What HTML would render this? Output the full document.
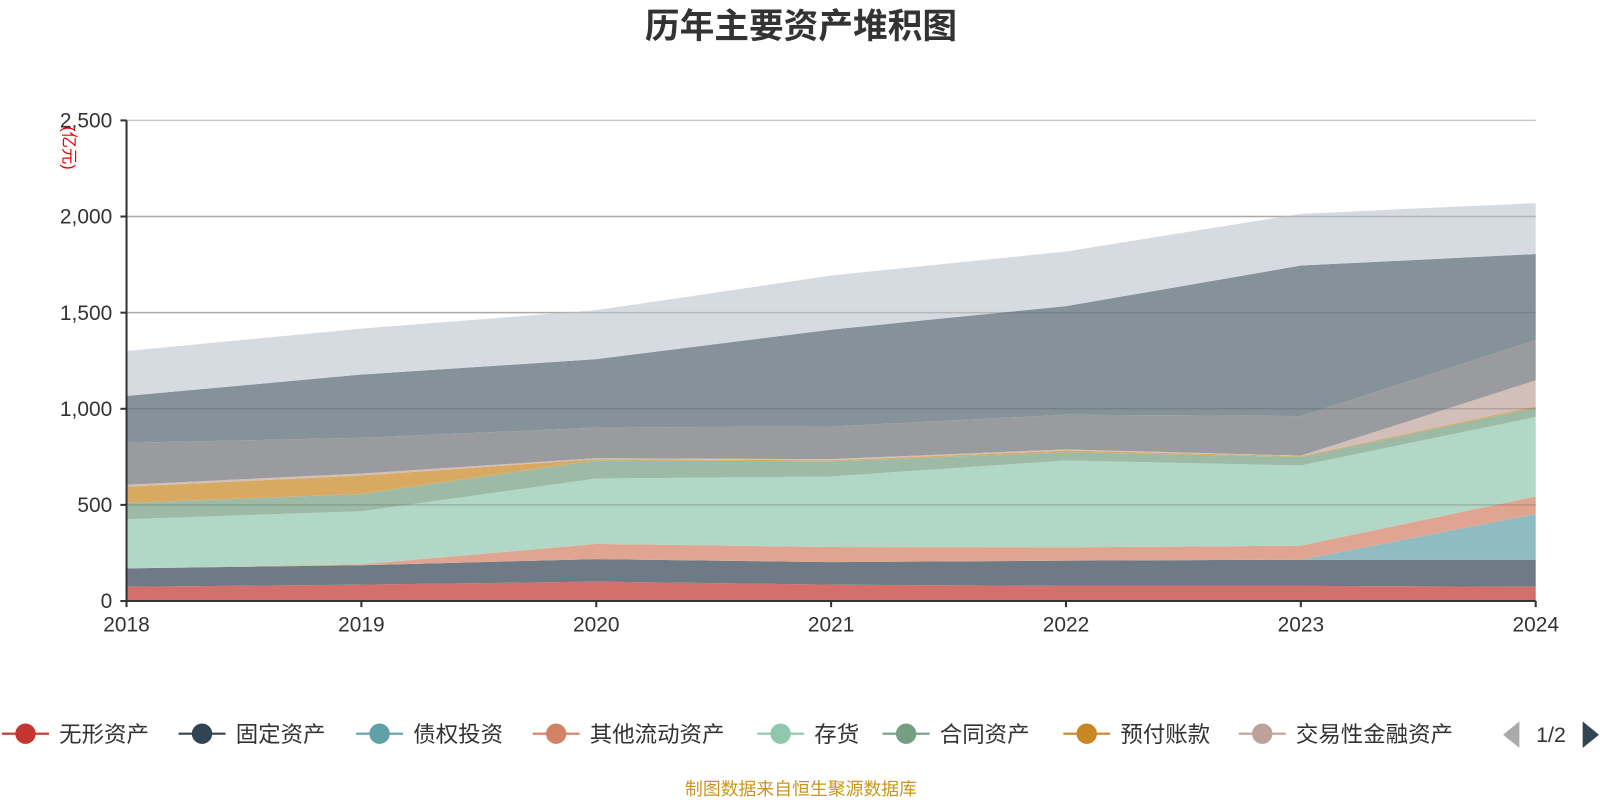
<!DOCTYPE html>
<html><head><meta charset="utf-8"><style>
html,body{margin:0;padding:0;background:#fff;}
svg{display:block;font-family:"Liberation Sans","Noto Sans CJK SC",sans-serif;}
</style></head><body>
<svg id="chart" width="1600" height="800">
<g transform="scale(1.020408)">
<text x="785" y="37" text-anchor="middle" font-size="34" font-weight="bold" fill="#333">历年主要资产堆积图</text>
<text transform="translate(62,145) rotate(90)" text-anchor="middle" font-size="16" fill="#e00">(亿元)</text>
<g id="grid"></g><g id="areas"></g><g id="axes"></g><g id="legend"></g>
<text x="785" y="779" text-anchor="middle" font-size="17.5" fill="#c8961e">制图数据来自恒生聚源数据库</text>
</g>
</svg>
<script>
const years = ['2018','2019','2020','2021','2022','2023','2024'];
const yTicks = [0,500,1000,1500,2000,2500];
const yTickLabels = ['0','500','1,000','1,500','2,000','2,500'];
const sIntangible = [74,85,101,85,79,79,74];
const sFixed = [96,101,117,117,131,136,141];
const sDebtInv = [0,0,0,0,0,0,238];
const sOtherCurrent = [0,5,79,79,69,73,91];
const sInventory = [255,276,340,367,452,417,413];
const sContract = [85,90,95,79,44,44,49];
const sPrepaid = [85,96,6,5,8,5,7];
const sTrading = [10,10,5,6,6,2,135];
const sEquity = [218,186,159,170,180,206,209];
const sReceivable = [244,329,356,504,565,783,448];
const sCash = [233,239,255,281,284,269,265];
const seriesNames = ['无形资产','固定资产','债权投资','其他流动资产','存货','合同资产','预付账款','交易性金融资产','长期股权投资','应收账款','货币资金'];
const seriesData = [sIntangible,sFixed,sDebtInv,sOtherCurrent,sInventory,sContract,sPrepaid,sTrading,sEquity,sReceivable,sCash];
const fills = ['#d46f6c','#6e7b86','#8fbbc1','#e0a590','#b1d8c6','#9dbaa6','#d8a961','#d3bfb9','#9a9b9e','#85929a','#d6dbe2'];
const legendColors = ['#c23531','#2f4554','#61a0a8','#d48265','#91c7ae','#749f83','#ca8622','#bda29a'];
const NS='http://www.w3.org/2000/svg';
const X0=124,X1=1505,Y0=589,YT=118,VMAX=2500;
const xs=i=>X0+(X1-X0)*i/(years.length-1);
const ys=v=>Y0-(Y0-YT)*v/VMAX;
function mk(tag,attrs,parent){const e=document.createElementNS(NS,tag);for(const k in attrs)e.setAttribute(k,attrs[k]);parent.appendChild(e);return e;}
const grid=document.getElementById('grid'),areas=document.getElementById('areas'),axes=document.getElementById('axes'),legend=document.getElementById('legend');
yTicks.forEach((t,i)=>{
  if(t>0){const l=mk('line',{x1:X0,x2:X1,y1:ys(t),y2:ys(t),stroke:'#c8c8c8','stroke-width':1.5},grid);
  
  }
  const tk=mk('line',{x1:X0-6,x2:X0,y1:ys(t),y2:ys(t),stroke:'#333','stroke-width':2},axes);
  
  
  const tx=mk('text',{x:X0-14,y:ys(t)+7,'text-anchor':'end','font-size':20.5,fill:'#333'},axes);
  tx.textContent=yTickLabels[i];
  
  
});
let base=years.map(()=>0);
seriesData.forEach((s,k)=>{
  const top=base.map((b,i)=>b+s[i]);
  let d='M'+years.map((_,i)=>xs(i)+','+ys(top[i])).join(' L');
  for(let i=years.length-1;i>=0;i--)d+=' L'+xs(i)+','+ys(base[i]);
  d+=' Z';
  const p=mk('path',{d:d,fill:fills[k]},areas);
  
  
  base=top;
});
yTicks.forEach(t=>{if(t>0&&t<2500){const l=mk('line',{x1:X0,x2:X1,y1:ys(t),y2:ys(t),stroke:'rgba(80,80,80,0.25)','stroke-width':1.5},areas);
  
  }});
const ya=mk('line',{x1:X0,x2:X0,y1:YT,y2:Y0,stroke:'#333','stroke-width':2},axes);


const xa=mk('line',{x1:X0,x2:X1,y1:Y0,y2:Y0,stroke:'#333','stroke-width':2},axes);


years.forEach((y,i)=>{
  const tk=mk('line',{x1:xs(i),x2:xs(i),y1:Y0,y2:Y0+6,stroke:'#333','stroke-width':2},axes);
  
  
  const t=mk('text',{x:xs(i),y:619,'text-anchor':'middle','font-size':20.5,fill:'#333'},axes);
  t.textContent=y;
  
  
});
const legX=[25,198,372,545,765,888,1065,1237];
legX.forEach((cx,k)=>{
  const g=mk('g',{},legend);
  
  
  mk('line',{x1:cx-23,x2:cx+23,y1:719,y2:719,stroke:legendColors[k],'stroke-width':2},g);
  mk('circle',{cx:cx,cy:719,r:10,fill:legendColors[k]},g);
  const t=mk('text',{x:cx+33,y:727,'font-size':22,fill:'#333'},g);
  t.textContent=seriesNames[k];
});
const pl=mk('path',{d:'M1489,707 L1489,733 L1473,720 Z',fill:'#aaa'},legend);


const pt=mk('text',{x:1520,y:727,'text-anchor':'middle','font-size':21,fill:'#333'},legend);
pt.textContent='1/2';


const pn=mk('path',{d:'M1551,707 L1551,733 L1567,720 Z',fill:'#2f4554'},legend);


</script>
</body></html>
